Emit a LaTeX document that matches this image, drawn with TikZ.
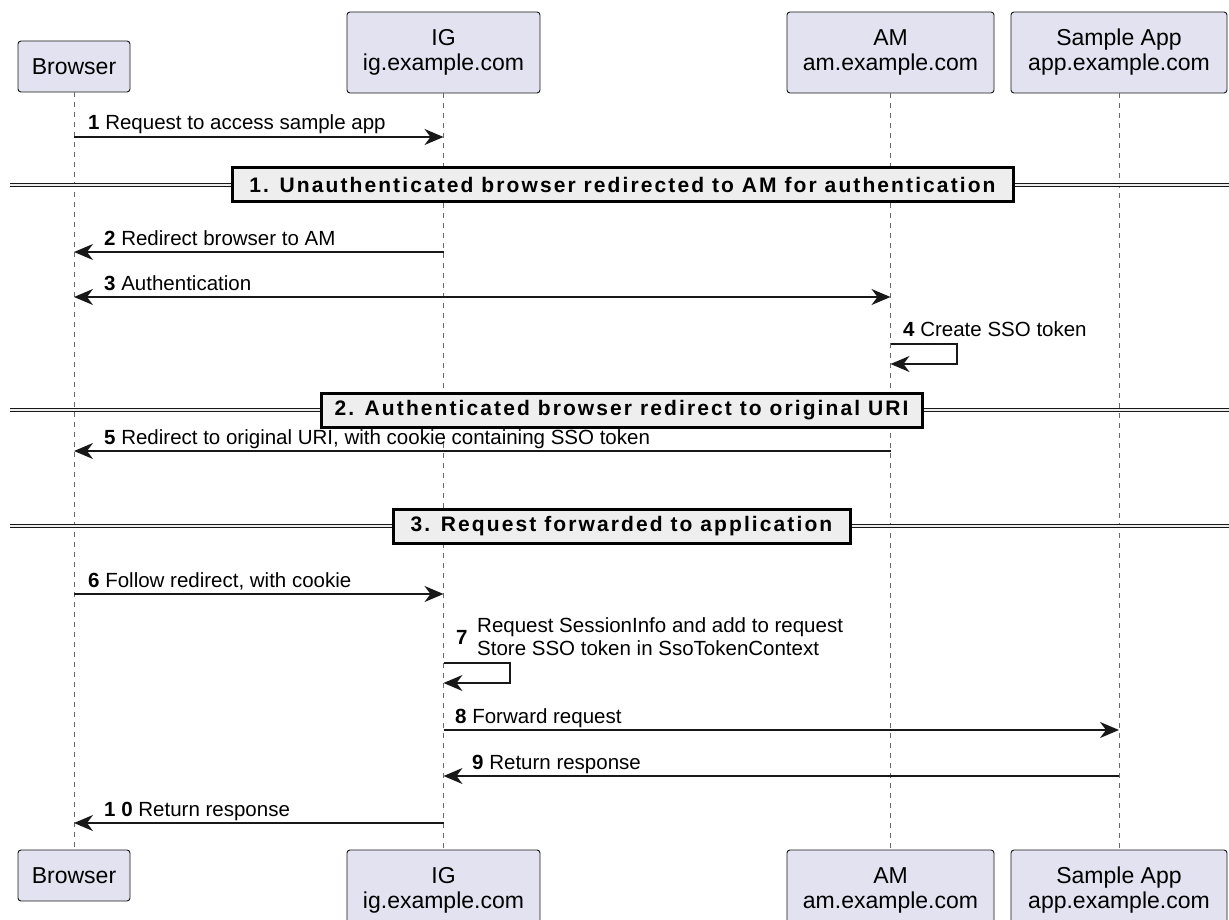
\documentclass[tikz,border=0pt]{standalone}
\usepackage{fontspec}
\setmainfont{Liberation Sans}
\newfontfamily\divfont[LetterSpace=10]{Liberation Sans}
\usetikzlibrary{arrows.meta}
\definecolor{partfill}{HTML}{E2E2F0}
\definecolor{ink}{HTML}{181818}
\definecolor{divfill}{HTML}{EEEEEE}
\tikzset{
  tip/.tip={Stealth[length=19pt,width=16pt,inset=6pt]},
  part/.style={draw=ink, line width=0.9pt, fill=partfill, rounded corners=3pt, align=center, inner sep=0pt, font=\fontsize{23}{25}\selectfont},
  life/.style={draw=ink!65, line width=0.9pt, dash pattern=on 5pt off 5pt},
  msg/.style={draw=ink, line width=1.5pt, line join=miter, -tip},
  bimsg/.style={draw=ink, line width=1.5pt, tip-tip},
  lbl/.style={inner sep=0pt, font=\fontsize{20.5}{23}\selectfont, anchor=base west},
  dline/.style={draw=ink, line width=1pt, double=divfill, double distance=2.5pt},
  divbox/.style={draw=black, line width=3pt, fill=divfill, inner sep=0pt, minimum height=34pt, font=\divfont\bfseries\fontsize{21}{24}\selectfont}
}
\begin{document}
\begin{tikzpicture}[x=1pt,y=-1pt]
\useasboundingbox (0,0) rectangle (1229,920);
\clip (0,0) rectangle (1229,920);
% participants top
\node[part, minimum width=112pt, minimum height=51pt] (brT) at (74,66.5) {Browser};
\node[part, minimum width=193pt, minimum height=81pt] (igT) at (443.5,52.5) {IG\\ig.example.com};
\node[part, minimum width=207pt, minimum height=81pt] (amT) at (890.5,52.5) {AM\\am.example.com};
\node[part, minimum width=216pt, minimum height=81pt] (apT) at (1119,52.5) {Sample App\\app.example.com};
% participants bottom
\node[part, minimum width=112pt, minimum height=51pt] (brB) at (74,875.5) {Browser};
\node[part, minimum width=193pt, minimum height=81pt] (igB) at (443.5,890.5) {IG\\ig.example.com};
\node[part, minimum width=207pt, minimum height=81pt] (amB) at (890.5,890.5) {AM\\am.example.com};
\node[part, minimum width=216pt, minimum height=81pt] (apB) at (1119,890.5) {Sample App\\app.example.com};
% lifelines
\draw[life] (brT.south) -- (brB.north);
\draw[life] (igT.south) -- (igB.north);
\draw[life] (amT.south) -- (amB.north);
\draw[life] (apT.south) -- (apB.north);
% dividers
\coordinate (d1l) at (10,185); \coordinate (d1r) at (1229,185);
\draw[dline] (d1l) -- (d1r);
\node[divbox, minimum width=781pt] (d1) at (622.5,185) {1. Unauthenticated browser redirected to AM for authentication};
\coordinate (d2l) at (10,410); \coordinate (d2r) at (1229,410);
\draw[dline] (d2l) -- (d2r);
\node[divbox, minimum width=601pt] (d2) at (621.5,410) {2. Authenticated browser redirect to original URI};
\coordinate (d3l) at (10,526); \coordinate (d3r) at (1229,526);
\draw[dline] (d3l) -- (d3r);
\node[divbox, minimum width=457pt] (d3) at (621.5,526) {3. Request forwarded to application};
% message 1
\coordinate (m1a) at (brT.south |- 0,137); \coordinate (m1b) at (igT.south |- 0,137);
\draw[msg] (m1a) -- (m1b);
\node[lbl] (l1) at (88,130) {\textbf{1} Request to access sample app};
% message 2
\coordinate (m2a) at (igT.south |- 0,252); \coordinate (m2b) at (brT.south |- 0,252);
\draw[msg] (m2a) -- (m2b);
\node[lbl] (l2) at (104,245) {\textbf{2} Redirect browser to AM};
% message 3
\coordinate (m3a) at (brT.south |- 0,297); \coordinate (m3b) at (amT.south |- 0,297);
\draw[bimsg] (m3a) -- (m3b);
\node[lbl] (l3) at (104,290) {\textbf{3} Authentication};
% message 4 (self)
\coordinate (m4a) at (amT.south |- 0,344); \coordinate (m4c1) at (957,344);
\coordinate (m4c2) at (957,364); \coordinate (m4b) at (amT.south |- 0,364);
\draw[msg] (m4a) -- (m4c1) -- (m4c2) -- (m4b);
\node[lbl] (l4) at (903,336) {\textbf{4} Create SSO token};
% message 5
\coordinate (m5a) at (amT.south |- 0,451); \coordinate (m5b) at (brT.south |- 0,451);
\draw[msg] (m5a) -- (m5b);
\node[lbl] (l5) at (104,444) {\textbf{5} Redirect to original URI, with cookie containing SSO token};
% message 6
\coordinate (m6a) at (brT.south |- 0,594); \coordinate (m6b) at (igT.south |- 0,594);
\draw[msg] (m6a) -- (m6b);
\node[lbl] (l6) at (88,587) {\textbf{6} Follow redirect, with cookie};
% message 7 (self)
\coordinate (m7a) at (igT.south |- 0,663); \coordinate (m7c1) at (510,663);
\coordinate (m7c2) at (510,683); \coordinate (m7b) at (igT.south |- 0,683);
\draw[msg] (m7a) -- (m7c1) -- (m7c2) -- (m7b);
\node[lbl] (l7n) at (456,644) {\textbf{7}};
\node[lbl] (l7a) at (477,632) {Request SessionInfo and add to request};
\node[lbl] (l7b) at (477,655) {Store SSO token in SsoTokenContext};
% message 8
\coordinate (m8a) at (igT.south |- 0,730); \coordinate (m8b) at (apT.south |- 0,730);
\draw[msg] (m8a) -- (m8b);
\node[lbl] (l8) at (455,723) {\textbf{8} Forward request};
% message 9
\coordinate (m9a) at (apT.south |- 0,776); \coordinate (m9b) at (igT.south |- 0,776);
\draw[msg] (m9a) -- (m9b);
\node[lbl] (l9) at (472,769) {\textbf{9} Return response};
% message 10
\coordinate (m10a) at (igT.south |- 0,823); \coordinate (m10b) at (brT.south |- 0,823);
\draw[msg] (m10a) -- (m10b);
\node[lbl] (l10) at (104,816) {\textbf{1 0} Return response};
\end{tikzpicture}
\end{document}
